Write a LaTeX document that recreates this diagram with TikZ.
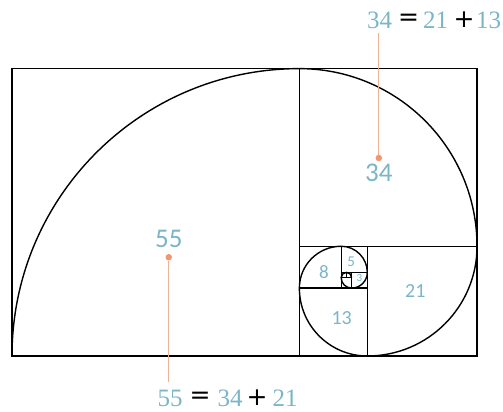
\documentclass[tikz,border=0pt]{standalone}
\usepackage{fontspec}
\setmainfont{Liberation Serif}
\newfontfamily\lblfont{Carlito}
\newfontfamily\symfont{DejaVu Sans}
\definecolor{lblue}{RGB}{122,182,198}
\definecolor{dotor}{RGB}{242,150,112}
\definecolor{lineor}{RGB}{238,178,150}
\tikzset{
  frame/.style={draw=black, line width=1.3pt},
  spiral/.style={draw=black, line width=1.4pt},
  num/.style={text=lblue, inner sep=0pt, font=\lblfont},
  eqnum/.style={text=lblue, inner sep=0pt, font=\fontsize{25}{28}\selectfont},
  eqsym/.style={text=black, inner sep=0pt, font=\symfont\fontsize{25}{28}\selectfont},
  pin/.style={draw=lineor, line width=0.9pt},
  pindot/.style={circle, fill=dotor, inner sep=0pt, minimum size=6.5pt},
}
\begin{document}
\begin{tikzpicture}[x=1pt,y=1pt]
\useasboundingbox (0,0) rectangle (503,412);
\begin{scope}[shift={(12,56)}, x=5.225pt, y=5.225pt]
  % squares
  \draw[frame] (0,0) rectangle (89,55);
  \draw[frame] (55,0) -- (55,55);
  \draw[frame] (55,21) -- (89,21);
  \draw[frame] (68,0) -- (68,21);
  \draw[frame] (55,13) -- (68,13);
  \draw[frame] (63,13) -- (63,21);
  \draw[frame] (63,16) -- (68,16);
  \draw[frame] (65,13) -- (65,16);
  \draw[frame] (63,15) -- (65,15);
  \draw[frame] (64,15) -- (64,16);
  % spiral
  \draw[spiral] (0,0) arc[start angle=180,end angle=90,radius=55]
    arc[start angle=90,end angle=0,radius=34]
    arc[start angle=0,end angle=-90,radius=21]
    arc[start angle=270,end angle=180,radius=13]
    arc[start angle=180,end angle=90,radius=8]
    arc[start angle=90,end angle=0,radius=5]
    arc[start angle=0,end angle=-90,radius=3]
    arc[start angle=270,end angle=180,radius=2]
    arc[start angle=180,end angle=90,radius=1]
    arc[start angle=90,end angle=0,radius=1];
  % labels
  \node[num, font=\lblfont\fontsize{27}{30}\selectfont] (n55) at (30.0,22.4) {55};
  \node[num, font=\lblfont\fontsize{27}{30}\selectfont] (n34) at (70.2,35.0) {34};
  \node[num, font=\lblfont\fontsize{20}{24}\selectfont] (n21) at (77.2,12.4) {21};
  \node[num, font=\lblfont\fontsize{20}{24}\selectfont] (n13) at (63.1,7.3) {13};
  \node[num, font=\lblfont\fontsize{19}{22}\selectfont] (n8) at (59.7,16.0) {8};
  \node[num, font=\lblfont\fontsize{15}{18}\selectfont] (n5) at (64.9,18.0) {5};
  \node[num, font=\lblfont\fontsize{11}{13}\selectfont] (n3) at (66.5,14.9) {3};
  % pins
  \node[pindot] (d55) at (30.0,18.9) {};
  \node[pindot] (d34) at (70.2,37.9) {};
  \coordinate (e55) at (30.0,-5.0);
  \coordinate (e34) at (70.2,61.8);
  \draw[pin] (d55) -- (e55);
  \draw[pin] (d34) -- (e34);
\end{scope}
% bottom equation: 55 = 34 + 21
\node[eqnum] (b1) at (170,14) {55};
\node[eqsym] (b2) at (200,14.5) {=};
\node[eqnum] (b3) at (230,14) {34};
\node[eqsym] (b4) at (257,14.5) {+};
\node[eqnum] (b5) at (285,14) {21};
% top equation: 34 = 21 +13
\node[eqnum] (t1) at (379.5,392) {34};
\node[eqsym] (t2) at (408.5,392.5) {=};
\node[eqnum] (t3) at (435.5,392) {21};
\node[eqsym] (t4) at (464,392.5) {+};
\node[eqnum] (t5) at (488.5,392) {13};
\end{tikzpicture}
\end{document}
